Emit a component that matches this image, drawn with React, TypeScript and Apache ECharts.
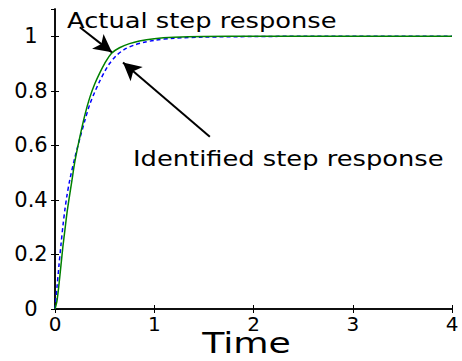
import React, { useEffect, useRef } from "react";
import * as echarts from "echarts";

const actualT = [0, 0.02, 0.04, 0.06, 0.08, 0.1, 0.12, 0.14, 0.17, 0.2, 0.25, 0.3, 0.35, 0.4, 0.45, 0.5, 0.57, 0.65, 0.75, 0.85, 1.0, 1.2, 1.5, 2, 3, 4];
const actualY = [0, 0.03, 0.09, 0.16, 0.23, 0.29, 0.35, 0.4, 0.47, 0.54, 0.63, 0.71, 0.775, 0.825, 0.865, 0.9, 0.938, 0.958, 0.973, 0.983, 0.991, 0.996, 0.999, 1, 1, 1];
const identT = [0, 0.02, 0.04, 0.06, 0.08, 0.1, 0.12, 0.15, 0.2, 0.25, 0.3, 0.35, 0.4, 0.45, 0.5, 0.55, 0.62, 0.7, 0.8, 0.9, 1.0, 1.2, 1.5, 2, 2.5, 4];
const identY = [0, 0.08, 0.16, 0.235, 0.305, 0.365, 0.415, 0.475, 0.555, 0.625, 0.69, 0.75, 0.795, 0.835, 0.87, 0.9, 0.93, 0.952, 0.968, 0.978, 0.985, 0.993, 0.997, 0.999, 1, 1];
const xTicks = [0, 1, 2, 3, 4];
const yTicks = [0, 0.2, 0.4, 0.6, 0.8, 1];
const labelActual = "Actual step response";
const labelIdent = "Identified step response";
const xTitle = "Time";

const FONT = "'DejaVu Sans', sans-serif";

export default function App() {
  const ref = useRef<HTMLDivElement>(null);
  useEffect(() => {
    if (!ref.current) return;
    const chart = echarts.init(ref.current, undefined, { renderer: "svg" });
    const axisLine = { show: true, lineStyle: { color: "#000", width: 1.5 } };
    const tick = { show: true, inside: true, length: 4, lineStyle: { color: "#000", width: 1 } };
    chart.setOption({
      animation: false,
      backgroundColor: "#fff",
      grid: { left: 55, right: 10, top: 9, bottom: 52 },
      xAxis: [
        {
          type: "value", min: 0, max: 4, interval: 1,
          axisLine, axisTick: tick, splitLine: { show: false },
          axisLabel: { color: "#000", fontSize: 20, fontFamily: FONT, margin: 5,
            formatter: (v: number) => (xTicks.includes(v) ? String(v) : "") },
        },
        {
          type: "value", min: 0, max: 4, interval: 1, position: "top",
          axisLine, axisTick: tick, axisLabel: { show: false }, splitLine: { show: false },
        },
      ],
      yAxis: [
        {
          type: "value", min: 0, max: 1.1, interval: 0.2,
          axisLine, axisTick: tick, splitLine: { show: false },
          axisLabel: { color: "#000", fontSize: 21, fontFamily: FONT, margin: 24, align: "center",
            showMaxLabel: false,
            formatter: (v: number) => {
              const m = yTicks.find((t) => Math.abs(t - v) < 1e-9);
              return m === undefined ? "" : String(m);
            } },
        },
        {
          type: "value", min: 0, max: 1.1, interval: 0.2, position: "right",
          axisLine, axisTick: tick, axisLabel: { show: false }, splitLine: { show: false },
        },
      ],
      series: [
        {
          type: "line", name: labelIdent, showSymbol: false, smooth: 0.3,
          data: identT.map((t, i) => [t, identY[i]]),
          lineStyle: { color: "#0000ff", width: 1.5, type: [4, 3] },
          z: 2,
        },
        {
          type: "line", name: labelActual, showSymbol: false, smooth: 0.3,
          data: actualT.map((t, i) => [t, actualY[i]]),
          lineStyle: { color: "#008000", width: 1.5 },
          z: 3,
          markLine: {
            silent: true,
            symbol: ["none", "arrow"],
            symbolSize: [14, 18],
            label: { show: false },
            lineStyle: { color: "#000", width: 2, type: "solid" },
            data: [
              [{ coord: [0.25, 1.033] }, { coord: [0.574, 0.941] }],
              [{ coord: [1.56, 0.632] }, { coord: [0.685, 0.904] }],
            ],
          },
        },
      ],
      graphic: [
        { type: "text", x: 67, y: 20.5, scaleX: 1.17, style: { text: labelActual, fontSize: 22, fontFamily: FONT, fill: "#000", align: "left", verticalAlign: "middle" } },
        { type: "text", x: 133, y: 158.3, scaleX: 1.17, style: { text: labelIdent, fontSize: 22, fontFamily: FONT, fill: "#000", align: "left", verticalAlign: "middle" } },
        { type: "text", x: 246.5, y: 342.8, scaleX: 1.25, style: { text: xTitle, fontSize: 29, fontFamily: FONT, fill: "#000", align: "center", verticalAlign: "middle" } },
      ],
    });
    return () => chart.dispose();
  }, []);
  return <div ref={ref} style={{ width: 462, height: 361, position: "absolute", left: 0, top: 0 }} />;
}
